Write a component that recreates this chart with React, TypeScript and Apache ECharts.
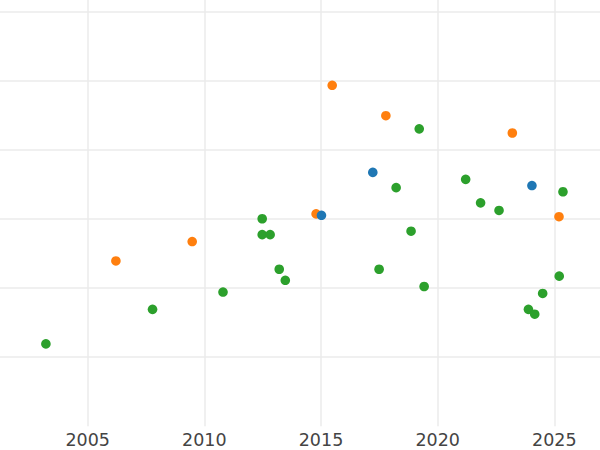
import React, { useEffect, useRef } from "react";
import * as echarts from "echarts";

const blueX = [2015.02, 2017.22, 2024.04];
const blueY = [3.05, 3.67, 3.48];

const orangeX = [2006.21, 2009.48, 2014.79, 2015.48, 2017.78, 2023.2, 2025.2];
const orangeY = [2.39, 2.67, 3.07, 4.93, 4.49, 4.24, 3.03];

const greenX = [
  2003.21, 2007.78, 2010.8, 2012.48, 2012.48, 2012.82, 2013.21, 2013.47, 2017.49, 2018.22,
  2018.86, 2019.21, 2019.42, 2021.2, 2021.84, 2022.63, 2023.89, 2024.16, 2024.5, 2025.21, 2025.37,
];
const greenY = [
  1.19, 1.69, 1.94, 3.0, 2.77, 2.77, 2.27, 2.11, 2.27, 3.45,
  2.82, 4.3, 2.02, 3.57, 3.23, 3.12, 1.69, 1.62, 1.92, 2.17, 3.39,
];

const pair = (xs: number[], ys: number[]) => xs.map((x, i) => [x, ys[i]]);

export default function App() {
  const ref = useRef<HTMLDivElement>(null);
  useEffect(() => {
    document.body.style.margin = "0";
    const chart = echarts.init(ref.current!, null, { renderer: "svg" });
    const grid = "#ebebeb";
    chart.setOption({
      animation: false,
      backgroundColor: "#ffffff",
      grid: { left: 0, right: 0, top: 0, bottom: 23.8, containLabel: false },
      xAxis: {
        type: "value",
        min: 2000,
        max: 2030,
        interval: 5,
        axisLine: { show: false },
        axisTick: { show: false },
        axisLabel: {
          color: "#444444",
          fontSize: 17.5,
          fontFamily: "DejaVu Sans",
          margin: 5,
          showMinLabel: false,
          showMaxLabel: false,
          formatter: (v: number) => String(v),
        },
        splitLine: { show: true, lineStyle: { color: grid, width: 1.5 } },
      },
      yAxis: {
        type: "value",
        min: 0,
        max: 8,
        interval: 1,
        axisLine: { show: false },
        axisTick: { show: false },
        axisLabel: { show: false },
        splitLine: { show: true, showMinLine: false, lineStyle: { color: grid, width: 1.5 } },
      },
      series: [
        {
          type: "scatter",
          data: pair(orangeX, orangeY),
          symbolSize: 9.6,
          itemStyle: { color: "#ff7f0e", opacity: 1 },
        },
        {
          type: "scatter",
          data: pair(greenX, greenY),
          symbolSize: 9.6,
          itemStyle: { color: "#2ca02c", opacity: 1 },
        },
        {
          type: "scatter",
          data: pair(blueX, blueY),
          symbolSize: 9.6,
          itemStyle: { color: "#1f77b4", opacity: 1 },
        },
      ],
    });
    return () => chart.dispose();
  }, []);
  return (
    <div
      style={{
        position: "absolute",
        left: 0,
        top: 0,
        width: 600,
        height: 450,
        overflow: "hidden",
        background: "#ffffff",
      }}
    >
      <div
        ref={ref}
        style={{ position: "absolute", left: -28.7, top: -127.4, width: 700.4, height: 577.4 }}
      />
    </div>
  );
}
